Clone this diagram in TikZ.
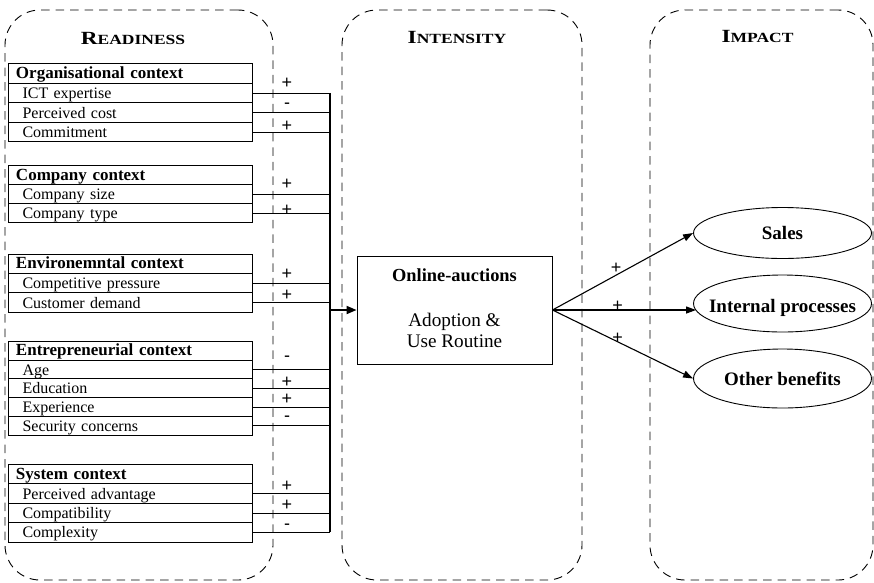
\documentclass[tikz,border=0pt]{standalone}
\usepackage{fontspec}
\setmainfont{Liberation Serif}
\newfontfamily\signfont{Liberation Sans}
\newfontfamily\titlefont[FakeStretch=1.25]{Liberation Serif}
\usetikzlibrary{arrows.meta,shapes.geometric,positioning,calc}

\begin{document}
\begin{tikzpicture}[x=1pt,y=-1pt,
  zone/.style={draw, line width=0.9pt, dash pattern=on 8.5pt off 6pt,
    rounded corners=35pt, inner sep=0pt},
  ztitle/.style={anchor=base, inner sep=0pt, font=\titlefont\bfseries},
  hdr/.style={draw, line width=0.9pt, outer sep=0pt, text width=228.5pt,
    inner xsep=8pt, inner ysep=0pt, text height=10pt, text depth=0pt,
    align=left, font=\bfseries\fontsize{17}{19}\selectfont, minimum height=#1},
  item/.style={draw, line width=0.9pt, outer sep=0pt, text width=215.5pt,
    inner xsep=14.5pt, inner ysep=0pt, text height=11pt, text depth=0pt,
    align=left, font=\fontsize{16}{18}\selectfont, minimum height=#1},
  sgnp/.style={font=\signfont\fontsize{18}{18}\selectfont, inner sep=0pt,
    anchor=base, yshift=-6.3pt},
  sgnm/.style={font=\signfont\fontsize{18}{18}\selectfont, inner sep=0pt,
    anchor=base, yshift=-4.9pt},
  fsgn/.style={font=\signfont\fontsize{18}{18}\selectfont, inner sep=0pt,
    anchor=base, yshift=-6.3pt},
  link/.style={line width=0.8pt},
  bus/.style={line width=1.8pt},
  busarrow/.style={line width=1.8pt, -{Triangle[length=10pt,width=8pt]}},
  fan/.style={line width=1.1pt, -{Triangle[length=10pt,width=7pt]}},
  outcome/.style={draw, ellipse, line width=0.9pt, inner sep=0pt,
    minimum width=178pt, text depth=0pt,
    font=\bfseries\fontsize{19}{21}\selectfont}
]
\useasboundingbox (0,0) rectangle (874,582);

% three stages
\node[zone, minimum width=268pt, minimum height=570pt] (readiness) at (139,295) {};
\node[zone, minimum width=240pt, minimum height=570pt] (intensity) at (462,295) {};
\node[zone, minimum width=223pt, minimum height=570pt] (impact) at (761.5,295) {};

\node[ztitle] (tr) at (133,44)
  {\fontsize{18.6}{20}\selectfont R\fontsize{14}{16}\selectfont EADINESS};
\node[ztitle] (ti) at (457,43.5)
  {\fontsize{18.6}{20}\selectfont I\fontsize{14}{16}\selectfont NTENSITY};
\node[ztitle] (tm) at (757.5,42)
  {\fontsize{18.6}{20}\selectfont I\fontsize{14}{16}\selectfont MPACT};

% organisational context
\node[hdr=19.6pt] (org) at (130.25,73.3) {Organisational context};
\node[item=19.6pt, below=0pt of org] (ict) {ICT expertise};
\node[item=19.6pt, below=0pt of ict] (cost) {Perceived cost};
\node[item=19.6pt, below=0pt of cost] (commit) {Commitment};

% company context
\node[hdr=19.1pt] (comp) at (130.25,175.05) {Company context};
\node[item=19.1pt, below=0pt of comp] (size) {Company size};
\node[item=19.1pt, below=0pt of size] (type) {Company type};

% environmental context
\node[hdr=19.3pt] (env) at (130.25,263.95) {Environemntal context};
\node[item=19.3pt, below=0pt of env] (press) {Competitive pressure};
\node[item=19.3pt, below=0pt of press] (demand) {Customer demand};

% entrepreneurial context
\node[hdr=18.7pt] (entre) at (130.25,350.85) {Entrepreneurial context};
\node[item=18.7pt, below=0pt of entre] (age) {Age};
\node[item=18.7pt, below=0pt of age] (edu) {Education};
\node[item=18.7pt, below=0pt of edu] (exper) {Experience};
\node[item=18.7pt, below=0pt of exper] (secur) {Security concerns};

% system context
\node[hdr=19.4pt] (sys) at (130.25,474.2) {System context};
\node[item=19.4pt, below=0pt of sys] (adv) {Perceived advantage};
\node[item=19.4pt, below=0pt of adv] (compat) {Compatibility};
\node[item=19.4pt, below=0pt of compat] (cplx) {Complexity};

% central construct
\node[draw, line width=0.9pt, minimum width=195pt, minimum height=108pt]
  (auction) at (454.5,310) {};
\node[anchor=base, inner sep=0pt, font=\bfseries\fontsize{18.4}{20}\selectfont]
  (aname) at (454.5,281) {Online-auctions};
\node[anchor=base, inner sep=0pt, font=\fontsize{19.2}{21}\selectfont]
  (aline1) at (454.5,326) {Adoption \&};
\node[anchor=base, inner sep=0pt, font=\fontsize{19.2}{21}\selectfont]
  (aline2) at (454.5,347) {Use Routine};

% outcomes
\node[outcome, minimum height=51pt, text height=12pt] (sales) at (782.5,233) {\makebox[0pt]{Sales}};
\node[outcome, minimum height=57pt, text height=17pt] (internal) at (782.5,303.5) {\makebox[0pt]{Internal processes}};
\node[outcome, minimum height=59pt, text height=13pt] (other) at (782.5,378.5) {\makebox[0pt]{Other benefits}};

% collecting bus
\coordinate (busx) at (330,0);
\foreach \r in {ict,cost,commit,size,type,press,demand,age,edu,exper,secur,adv,compat,cplx}
  \draw[link] (\r.east) -- (\r.east -| busx);
\draw[bus] (ict.east -| busx) -- (cplx.east -| busx);
\draw[busarrow] (busx |- auction.west) -- (auction.west);

% signs of the effects
\node[sgnp] (s1) at (287,82) {+};
\node[sgnm] (s2) at (287,104) {-};
\node[sgnp] (s3) at (287,125) {+};
\node[sgnp] (s4) at (287,183) {+};
\node[sgnp] (s5) at (287,209) {+};
\node[sgnp] (s6) at (287,273) {+};
\node[sgnp] (s7) at (287,294) {+};
\node[sgnm] (s8) at (287,357) {-};
\node[sgnp] (s9) at (287,381) {+};
\node[sgnp] (s10) at (287,398) {+};
\node[sgnm] (s11) at (287,417) {-};
\node[sgnp] (s12) at (287,485) {+};
\node[sgnp] (s13) at (287,504) {+};
\node[sgnm] (s14) at (287,525) {-};

% effects on the outcomes
\draw[fan] (auction.east) -- (sales.west);
\draw[fan] (auction.east) -- ($(auction.east -| internal.west)+(3,0)$);
\draw[fan] (auction.east) -- (other.west);
\node[fsgn] (f1) at (616,267.3) {+};
\node[fsgn] (f2) at (617.7,305) {+};
\node[fsgn] (f3) at (617.7,336.7) {+};
\end{tikzpicture}
\end{document}
